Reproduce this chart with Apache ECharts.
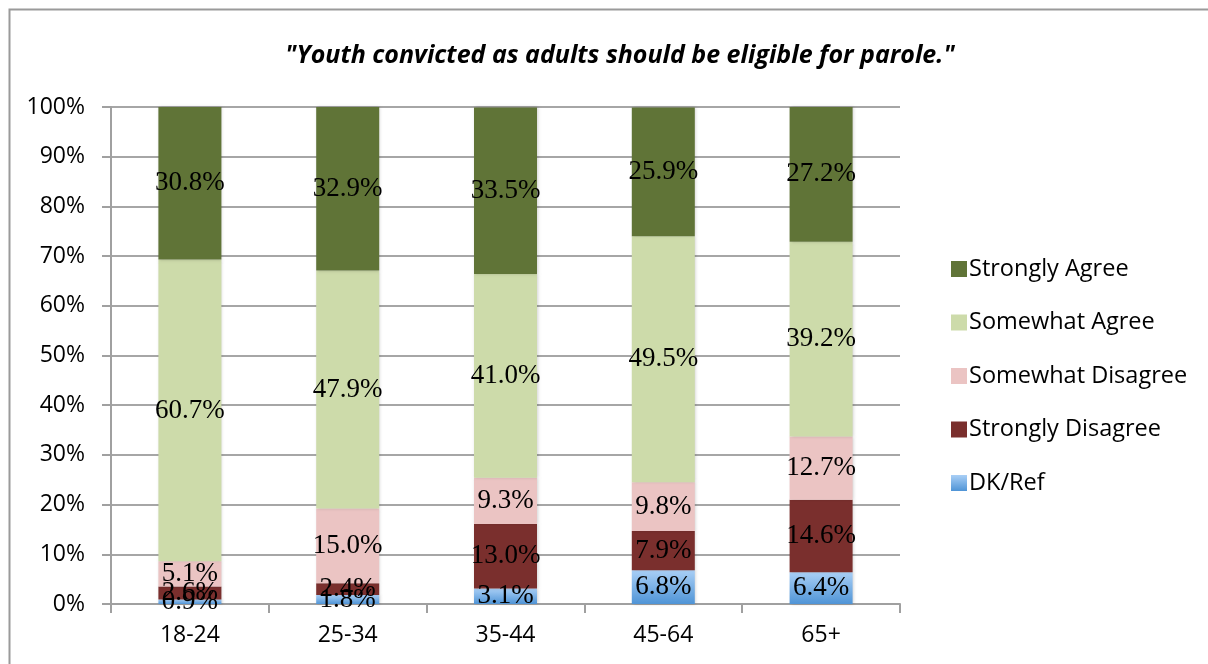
<!DOCTYPE html>
<html>
<head>
<meta charset="utf-8">
<script src="https://cdn.jsdelivr.net/npm/echarts@6/dist/echarts.min.js"></script>
<style>
  html, body { margin: 0; padding: 0; background: #ffffff; }
  #chart { width: 1208px; height: 664px; }
</style>
</head>
<body>
<div id="chart"></div>
<script>
// Age groups on the x axis
const ageGroups = ['18-24', '25-34', '35-44', '45-64', '65+'];

// Share of respondents (%) per answer, by age group
const dkRef             = [0.9, 1.8, 3.1, 6.8, 6.4];
const stronglyDisagree  = [2.6, 2.4, 13.0, 7.9, 14.6];
const somewhatDisagree  = [5.1, 15.0, 9.3, 9.8, 12.7];
const somewhatAgree     = [60.7, 47.9, 41.0, 49.5, 39.2];
const stronglyAgree     = [30.8, 32.9, 33.5, 25.9, 27.2];

// Legend order (top to bottom)
const legendOrder = ['Strongly Agree', 'Somewhat Agree', 'Somewhat Disagree', 'Strongly Disagree', 'DK/Ref'];

const sansFont = '"Open Sans", "Liberation Sans", sans-serif';
const serifFont = '"Liberation Serif", "DejaVu Serif", serif';

function makeSeries(name, data, color) {
  return {
    name: name,
    type: 'bar',
    stack: 'total',
    barWidth: 63,
    data: data,
    itemStyle: {
      color: color,
      shadowColor: 'rgba(0,0,0,0.18)',
      shadowBlur: 3,
      shadowOffsetX: 1,
      shadowOffsetY: 0
    },
    label: {
      show: true,
      position: 'inside',
      color: '#000000',
      fontFamily: serifFont,
      fontSize: 27,
      formatter: p => p.value.toFixed(1) + '%'
    },
    emphasis: { disabled: true }
  };
}

const chart = echarts.init(document.getElementById('chart'), null, { renderer: 'canvas' });

chart.setOption({
  animation: false,
  backgroundColor: '#ffffff',
  title: {
    text: '"Youth convicted as adults should be eligible for parole."',
    left: 615,
    textAlign: 'center',
    top: 38,
    textStyle: {
      fontFamily: sansFont,
      fontStyle: 'italic',
      fontWeight: 'bold',
      fontSize: 25,
      color: '#000000'
    }
  },
  graphic: [{
    type: 'rect',
    left: 7,
    top: 7,
    shape: { width: 1230, height: 700 },
    style: { fill: 'none', stroke: '#9a9a9a', lineWidth: 2 },
    silent: true
  }],
  legend: {
    orient: 'vertical',
    left: 946,
    top: 252,
    data: legendOrder,
    icon: 'rect',
    itemWidth: 16,
    itemHeight: 16,
    itemGap: 29.5,
    textStyle: {
      fontFamily: sansFont,
      fontSize: 23.5,
      lineHeight: 24,
      color: '#000000',
      padding: [0, 0, 0, -3]
    }
  },
  grid: {
    left: 111,
    right: 308,
    top: 107,
    bottom: 60,
    containLabel: false
  },
  xAxis: {
    type: 'category',
    data: ageGroups,
    axisLine: { show: true, lineStyle: { color: '#a0a0a0', width: 2 } },
    axisTick: { show: true, length: 9, alignWithLabel: false, lineStyle: { color: '#a0a0a0', width: 2 } },
    axisLabel: {
      margin: 20,
      fontFamily: sansFont,
      fontSize: 23,
      color: '#000000'
    },
    splitLine: { show: false }
  },
  yAxis: {
    type: 'value',
    min: 0,
    max: 100,
    interval: 10,
    axisLine: { show: true, lineStyle: { color: '#a0a0a0', width: 2 } },
    axisTick: { show: true, length: 9, lineStyle: { color: '#a0a0a0', width: 2 } },
    axisLabel: {
      margin: 26,
      fontFamily: sansFont,
      fontSize: 23,
      color: '#000000',
      formatter: v => v + '%'
    },
    splitLine: { show: true, lineStyle: { color: '#a6a6a6', width: 2 } }
  },
  series: [
    makeSeries('DK/Ref', dkRef, {
      type: 'linear', x: 0, y: 0, x2: 0, y2: 1,
      colorStops: [{ offset: 0, color: '#a9cff6' }, { offset: 1, color: '#4f94d6' }]
    }),
    makeSeries('Strongly Disagree', stronglyDisagree, '#7a2f2d'),
    makeSeries('Somewhat Disagree', somewhatDisagree, '#ebc4c3'),
    makeSeries('Somewhat Agree', somewhatAgree, '#cddbaa'),
    makeSeries('Strongly Agree', stronglyAgree, '#607437')
  ]
});
</script>
</body>
</html>
